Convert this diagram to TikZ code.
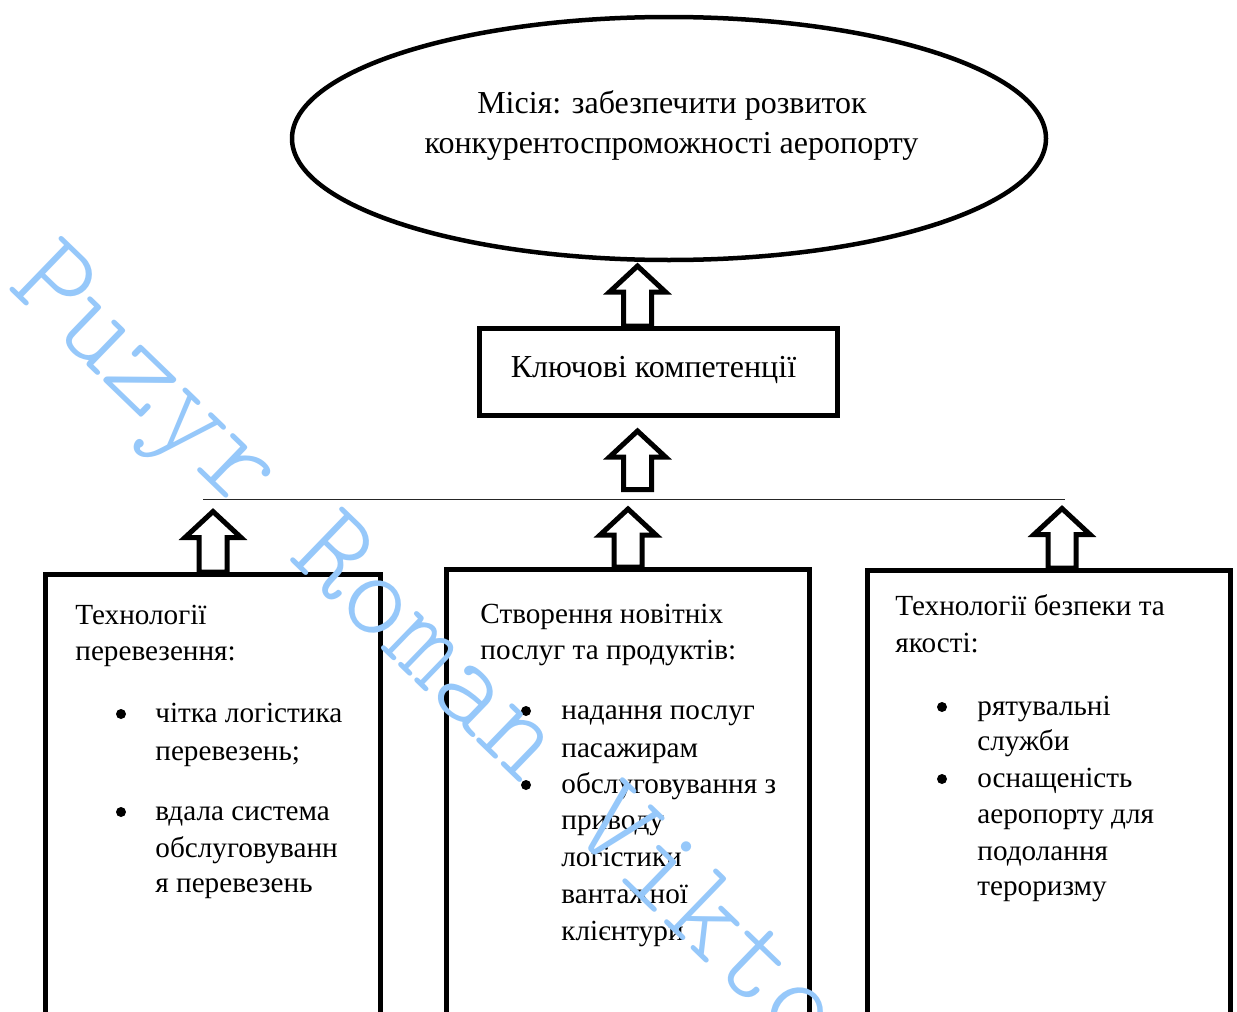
\documentclass[tikz,border=0pt]{standalone}
\usepackage{fontspec}
\setmainfont{Liberation Serif}
\newfontfamily\wmfont{Latin Modern Mono Light}
\usetikzlibrary{shapes.geometric,calc}
\definecolor{wmblue}{RGB}{150,200,250}

\newcommand{\blockup}[2]{%
  \draw[blockarrow] let \p1=(#1), \p2=(#2) in
    (\x1-7pt,\y1) -- (\x1-7pt,\y2-13pt) -- (\x1-14pt,\y2-13pt) -- (\x2,\y2)
    -- (\x1+14pt,\y2-13pt) -- (\x1+7pt,\y2-13pt) -- (\x1+7pt,\y1) -- cycle;}

\begin{document}
\begin{tikzpicture}[x=0.5pt,y=-0.5pt,
  frame/.style={draw, line width=2.5pt, inner sep=0pt},
  txt/.style={anchor=base west, inner sep=0pt, font=\fontsize{14.6}{17}\selectfont},
  mtxt/.style={anchor=base, inner sep=0pt, font=\fontsize{16}{18}\selectfont},
  dot/.style={circle, fill=black, inner sep=0pt, minimum size=5pt},
  blockarrow/.style={draw, fill=white, line width=2.5pt},
  wm/.style={text=wmblue, inner sep=0pt, font=\wmfont\fontsize{62}{62}\selectfont}]
\useasboundingbox (0,0) rectangle (1237,1012);
\fill[white] (0,0) rectangle (1237,1012);
\clip (0,0) rectangle (1237,1012);

% mission
\node[frame, ellipse, line width=2.25pt, minimum width=377pt, minimum height=121.5pt] (mis) at (669,138.5) {};
\node[mtxt] (misT1) at (672,113) {Місія: забезпечити розвиток};
\node[mtxt] (misT2) at (671.5,153) {конкурентоспроможності аеропорту};

% key competences
\node[frame, minimum width=179pt, minimum height=43.5pt] (kc) at (658.5,372) {};
\node[mtxt] (kcT) at (653.5,377) {Ключові компетенції};

% lower boxes
\node[frame, minimum width=167.5pt, minimum height=237.75pt] (trbox) at (213,812.25) {};
\node[frame, minimum width=181.5pt, minimum height=240.25pt] (svbox) at (628,809.75) {};
\node[frame, minimum width=181.5pt, minimum height=239.75pt] (sfbox) at (1049,810.25) {};

% bar
\coordinate (barL) at (203,499.5);
\coordinate (barR) at (1065,499.5);
\draw[line width=0.75pt, black!85] (barL) -- (barR);

% arrows
\coordinate (tipA) at (637.5,266);
\coordinate (tipB) at (637.5,431);
\coordinate (baseB) at (637.5,489.5);
\coordinate (tipL) at (213,511.5);
\coordinate (tipM) at (628,509);
\coordinate (tipR) at (1062,508.5);
\blockup{tipA |- kc.north}{tipA}
\blockup{baseB}{tipB}
\blockup{tipL |- trbox.north}{tipL}
\blockup{tipM |- svbox.north}{tipM}
\blockup{tipR |- sfbox.north}{tipR}

% transport
\node[txt] (trH1) at (75,624) {Технології};
\node[txt] (trH2) at (75,660) {перевезення:};
\node[dot] (trD1) at (121,714) {};
\node[txt] (trI1) at (155,722) {чітка логістика};
\node[txt] (trI2) at (155,760) {перевезень;};
\node[dot] (trD2) at (121,812) {};
\node[txt] (trI3) at (155,820) {вдала система};
\node[txt] (trI4) at (155,857) {обслуговуванн};
\node[txt] (trI5) at (155,892) {я перевезень};

% services
\node[txt] (svH1) at (480,623) {Створення новітніх};
\node[txt] (svH2) at (480,659) {послуг та продуктів:};
\node[dot] (svD1) at (526,711) {};
\node[txt] (svI1) at (561,719) {надання послуг};
\node[txt] (svI2) at (561,757) {пасажирам};
\node[dot] (svD2) at (526,785) {};
\node[txt] (svI3) at (561,793) {обслуговування з};
\node[txt] (svI4) at (561,829) {приводу};
\node[txt] (svI5) at (561,866) {логістики};
\node[txt] (svI6) at (561,903) {вантажної};
\node[txt] (svI7) at (561,940) {клієнтури};

% safety
\node[txt] (sfH1) at (895,615) {Технології безпеки та};
\node[txt] (sfH2) at (895,652) {якості:};
\node[dot] (sfD1) at (942,707) {};
\node[txt] (sfI1) at (977,715) {рятувальні};
\node[txt] (sfI2) at (977,750) {служби};
\node[dot] (sfD2) at (942,779) {};
\node[txt] (sfI3) at (977,787) {оснащеність};
\node[txt] (sfI4) at (977,823) {аеропорту для};
\node[txt] (sfI5) at (977,860) {подолання};
\node[txt] (sfI6) at (977,895) {тероризму};

% watermark
\node[wm, rotate=-44, anchor=west] (wmark) at (22,270) {Puzyr Roman Viktor};
\end{tikzpicture}
\end{document}
